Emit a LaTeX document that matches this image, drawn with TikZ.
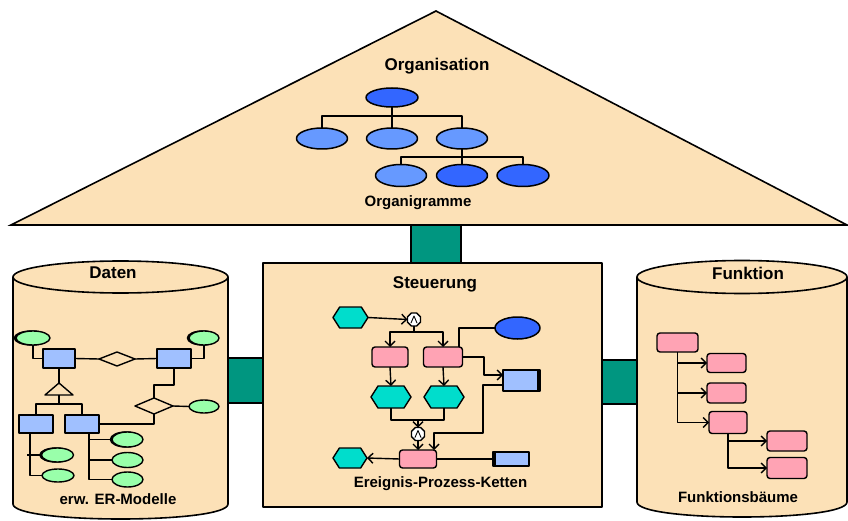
\documentclass[tikz,border=0pt]{standalone}
\usepackage{fontspec}
\setmainfont{Liberation Sans}
\usetikzlibrary{shapes.geometric,shapes.symbols,arrows.meta,shadows}

\definecolor{peach}{RGB}{252,225,183}
\definecolor{pillar}{RGB}{0,150,128}
\definecolor{orgdark}{RGB}{51,102,255}
\definecolor{orglight}{RGB}{102,153,255}
\definecolor{evcyan}{RGB}{0,221,204}
\definecolor{fnpink}{RGB}{255,163,180}
\definecolor{entblue}{RGB}{160,192,255}
\definecolor{attgreen}{RGB}{153,255,170}

\tikzset{
  sz/.style 2 args={minimum width=#1pt, minimum height=#2pt},
  base/.style={draw, inner sep=0pt, outer sep=0pt, line width=1.4pt},
  orgunit/.style={base, ellipse, line width=1.5pt},
  event/.style={base, signal, signal to=east and west, signal pointer angle=115, fill=evcyan},
  func/.style={base, rectangle, rounded corners=3pt, fill=fnpink},
  infobox/.style={base, rectangle, fill=entblue},
  entity/.style={base, rectangle, fill=entblue},
  attr/.style={base, ellipse, fill=attgreen},
  shadowed/.style={copy shadow={shadow xshift=-1.6pt, shadow yshift=0pt, opacity=1, fill=black}},
  relship/.style={base, diamond, fill=peach},
  opnode/.style={base, regular polygon, regular polygon sides=8, minimum size=14pt, fill=white},
  arr/.style={-{Straight Barb[length=5pt,width=10pt]}},
  title/.style={inner sep=0pt, font=\fontsize{17}{20}\selectfont\bfseries},
  subtitle/.style={inner sep=0pt, font=\fontsize{15}{18}\selectfont\bfseries},
  housepart/.style={fill=peach, draw, line width=1.6pt},
  column/.style={fill=pillar, draw, line width=1.4pt},
}

\begin{document}
\begin{tikzpicture}[x=1pt, y=-1pt, line width=1.4pt, line join=round]
\useasboundingbox (0,0) rectangle (848,521);

% connecting columns of the house
\filldraw[column] (411,222) rectangle (461,265);
\filldraw[column] (220,358) rectangle (266,403);
\filldraw[column] (598,360) rectangle (640,404);

% roof: organisation view
\filldraw[housepart, line join=miter] (11,225) -- (436,11) -- (847,225) -- cycle;

% left cylinder: data view
\filldraw[housepart] (13,277) -- (13,504) .. controls (13,524) and (228,524) .. (228,504) -- (228,277);
\filldraw[housepart] (120.5,277) ellipse [x radius=107.5, y radius=16];

% right cylinder: function view
\filldraw[housepart] (637,277) -- (637,502) .. controls (637,522) and (847,522) .. (847,502) -- (847,277);
\filldraw[housepart] (742,277) ellipse [x radius=105, y radius=16.5];

% centre box: control view
\filldraw[housepart] (263,263) rectangle (602,507);

% headings
\node[title] (tOrg) at (437,66) {Organisation};
\node[subtitle] (tOrgSub) at (418,203) {Organigramme};
\node[title] (tDat) at (113,273) {Daten};
\node[subtitle] (tDatSub) at (118,499) {erw. ER-Modelle};
\node[title] (tSt) at (435,284) {Steuerung};
\node[subtitle] (tStSub) at (440.5,484) {Ereignis-Prozess-Ketten};
\node[title] (tFn) at (748,273) {Funktion};
\node[subtitle] (tFnSub) at (738,497) {Funktionsbäume};

% ---------- organisation chart ----------
\node[orgunit, fill=orgdark, sz={52}{19}] (o0) at (392,97.5) {};
\node[orgunit, fill=orglight, sz={51}{21}] (o1) at (322,138.5) {};
\node[orgunit, fill=orglight, sz={51}{21}] (o2) at (392,138.5) {};
\node[orgunit, fill=orglight, sz={51}{21}] (o3) at (462,138.5) {};
\node[orgunit, fill=orglight, sz={51}{22}] (o4) at (401,175.5) {};
\node[orgunit, fill=orgdark, sz={51}{22}] (o5) at (462,175.5) {};
\node[orgunit, fill=orgdark, sz={52}{22}] (o6) at (523,175.5) {};
\begin{scope}[line width=1.2pt]
  \coordinate (ob1) at (392,116);
  \coordinate (ob2) at (462,157);
  \draw (o0.south) -- (ob1);
  \draw (o1.north) |- (ob1) -| (o3.north);
  \draw (ob1) -- (o2.north);
  \draw (o3.south) -- (ob2);
  \draw (o4.north) |- (ob2) -| (o6.north);
  \draw (ob2) -- (o5.north);
\end{scope}

% ---------- extended ER model ----------
\node[attr, shadowed, sz={34}{14}] (a1) at (33,338) {};
\node[attr, shadowed, sz={30}{14}] (a2) at (204,338) {};
\node[entity, sz={32}{19}] (en1) at (59,358.5) {};
\node[entity, sz={34}{19}] (en2) at (174,358.5) {};
\node[relship, sz={36}{14}] (d1) at (117,359) {};
\node[entity, sz={34}{18}] (en3) at (36,424) {};
\node[entity, sz={34}{18}] (en4) at (82,424) {};
\node[relship, sz={38}{16}] (d2) at (154,406) {};
\node[attr, sz={30}{13}] (a3) at (204,406.5) {};
\node[attr, shadowed, sz={32}{14}] (a4) at (57.5,455) {};
\node[attr, sz={32}{13}] (a5) at (58,475.5) {};
\node[attr, shadowed, sz={31}{15}] (a6) at (127.5,439.5) {};
\node[attr, sz={31}{15}] (a7) at (127.5,460) {};
\node[attr, sz={31}{15}] (a8) at (127.5,479.5) {};

\draw (a1.south) |- (en1.west);
\draw (a2.south) |- (en2.east);
\draw (en1.east) -- (d1.west);
\draw (d1.east) -- (en2.west);
\coordinate (gen) at (59,383);
\coordinate (genb) at (59,395);
\coordinate (gj) at (59,404);
\draw (en1.south) -- (gen);
\filldraw[fill=peach] (gen) -- (45,395) -- (73,395) -- cycle;
\draw (genb) -- (gj);
\draw (en3.north) |- (gj) -| (en4.north);
\draw (en2.south) |- (154,385) -- (d2.north);
\draw (d2.east) -- (a3.west);
\draw (d2.south) |- (en4.east);
\draw (en3.south -| 30,0) |- (a5.west);
\draw (a4.west -| 27,0) -- (a4.west);
\draw (en4.south -| 89,0) |- (a8.west);
\draw (a6.west -| 89,0) -- (a6.west);
\draw (a7.west -| 89,0) -- (a7.west);

% ---------- event-driven process chain ----------
\node[event, sz={35}{21}] (e1) at (350.5,317.5) {};
\node[opnode] (c1) at (414,319.5) {};
\node[func, sz={36}{20}] (f1) at (390,357) {};
\node[func, sz={39}{20}] (f2) at (443,357) {};
\node[orgunit, fill=orgdark, sz={45}{22}] (ou) at (517.5,328) {};
\node[infobox, sz={37}{21}] (s2) at (521.5,380.5) {};
\node[event, sz={40}{22}] (e2) at (391,397) {};
\node[event, sz={40}{22}] (e3) at (444,397) {};
\node[opnode] (c2) at (418,434) {};
\node[func, sz={37}{18}] (f3) at (418,459) {};
\node[event, sz={34}{20}] (e4) at (350,458) {};
\node[infobox, sz={36}{14}] (s1) at (511,459) {};
\draw[line width=2.8pt] ([xshift=-1.4pt]s2.north east) -- ([xshift=-1.4pt]s2.south east);
\draw[line width=2.8pt] ([xshift=1.4pt]s1.north west) -- ([xshift=1.4pt]s1.south west);

% operator glyphs
\foreach \c in {c1,c2}
  \draw[line width=0.9pt, line cap=round] ([shift={(-3pt,-3.5pt)}]\c.center) -- ([shift={(0pt,3.5pt)}]\c.center) -- ([shift={(3pt,-3.5pt)}]\c.center);

\draw[arr] (e1.east) -- (c1.west);
\coordinate (cj) at (414,332);
\draw (c1.south) -- (cj);
\draw[arr] (cj) -| (f1.north);
\draw[arr] (cj) -| (f2.north);
\draw[arr] (f1.south) -- (e2.north);
\draw[arr] (f2.south) -- (e3.north);
\coordinate (j2) at (418,420);
\draw (e2.south) |- (j2) -| (e3.south);
\draw[arr] (j2) -- (c2.north);
\draw[arr] (c2.south) -- (f3.north);
\draw[arr] (f3.west) -- (e4.east);
\draw (f3.east) -- (s1.west);
\draw (ou.west) -| (f2.north east -| 459,0);
\draw[arr] (f2.east) -- (484,357) -- (484,375) -- (s2.west |- 0,375);
\draw[arr] (s2.west |- 0,385) -| (483,433) -| (f3.north east -| 434,0);

% ---------- function tree ----------
\node[func, sz={41}{19}] (r0) at (677.5,342.5) {};
\node[func, sz={39}{19}] (r1) at (726.5,363) {};
\node[func, sz={39}{20}] (r2) at (726.5,393) {};
\node[func, sz={38}{22}] (r3) at (728,422.5) {};
\node[func, sz={40}{20}] (r4) at (787,441) {};
\node[func, sz={40}{21}] (r5) at (787,468) {};
\draw[arr] (r0.south) |- (r1.west);
\draw[arr] (r0.south) |- (r2.west);
\draw[arr] (r0.south) |- (r3.west);
\draw[arr] (r3.south) |- (r4.west);
\draw[arr] (r3.south) |- (r5.west);
\end{tikzpicture}
\end{document}
